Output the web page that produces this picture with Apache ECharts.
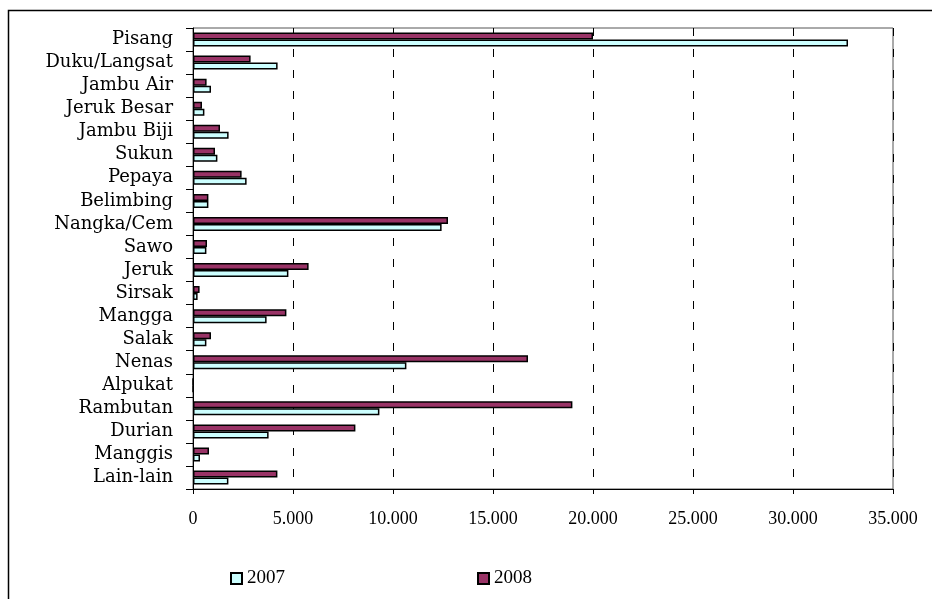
<!DOCTYPE html>
<html>
<head>
<meta charset="utf-8">
<script src="https://cdn.jsdelivr.net/npm/echarts@6/dist/echarts.min.js"></script>
<style>html,body{margin:0;padding:0;background:#fff;}#c{width:932px;height:599px;}</style>
</head>
<body>
<div id="c"></div>
<script>
const categories = ['Pisang','Duku/Langsat','Jambu Air','Jeruk Besar','Jambu Biji','Sukun','Pepaya','Belimbing','Nangka/Cem','Sawo','Jeruk','Sirsak','Mangga','Salak','Nenas','Alpukat','Rambutan','Durian','Manggis','Lain-lain'];
const values2007 = [32750, 4230, 900, 570, 1780, 1220, 2680, 770, 12430, 670, 4770, 230, 3680, 670, 10670, 0, 9320, 3780, 350, 1770];
const values2008 = [20000, 2880, 680, 450, 1350, 1100, 2430, 770, 12750, 700, 5780, 330, 4670, 900, 16750, 0, 18970, 8120, 800, 4220];
const xTicks = { min: 0, max: 35000, interval: 5000 };

const chart = echarts.init(document.getElementById('c'));
const fmt = v => String(v).replace(/\B(?=(\d{3})+(?!\d))/g, '.');
chart.setOption({
  animation: false,
  backgroundColor: '#fff',
  graphic: [{
    type: 'rect', silent: true,
    shape: { x: 8.5, y: 10.5, width: 940, height: 600 },
    style: { fill: 'none', stroke: '#000', lineWidth: 1.5 }
  }],
  grid: { left: 193, right: 39, top: 28, bottom: 110, show: true, borderColor: '#555', borderWidth: 1, backgroundColor: 'transparent' },
  legend: {
    left: 225, top: 564, itemWidth: 11, itemHeight: 11, itemGap: 192,
    icon: 'rect',
    data: ['2007', '2008'],
    textStyle: { fontFamily: 'Liberation Serif', fontSize: 19, color: '#000' }
  },
  xAxis: {
    type: 'value', min: xTicks.min, max: xTicks.max, interval: xTicks.interval,
    axisLine: { show: true, lineStyle: { color: '#000', width: 1 } },
    axisTick: { show: true, length: 5, lineStyle: { color: '#000' } },
    axisLabel: { formatter: fmt, margin: 21, fontFamily: 'Liberation Serif', fontSize: 18, color: '#000' },
    splitLine: { show: true, lineStyle: { color: '#000', type: [8, 13], width: 1 } }
  },
  yAxis: {
    type: 'category', inverse: true, data: categories,
    axisLine: { show: true, lineStyle: { color: '#000', width: 1 } },
    axisTick: { show: true, length: 7, alignWithLabel: false, lineStyle: { color: '#000' } },
    axisLabel: { margin: 20, fontFamily: 'DejaVu Serif', fontSize: 18, color: '#000', interval: 0 }
  },
  series: [
    { name: '2008', type: 'bar', data: values2008, barWidth: 7, barGap: '0%',
      itemStyle: { color: '#993366', borderColor: '#000', borderWidth: 1.5 } },
    { name: '2007', type: 'bar', data: values2007, barWidth: 7, barGap: '0%',
      itemStyle: { color: '#CCFFFF', borderColor: '#000', borderWidth: 1.5 } }
  ]
});
</script>
</body>
</html>
